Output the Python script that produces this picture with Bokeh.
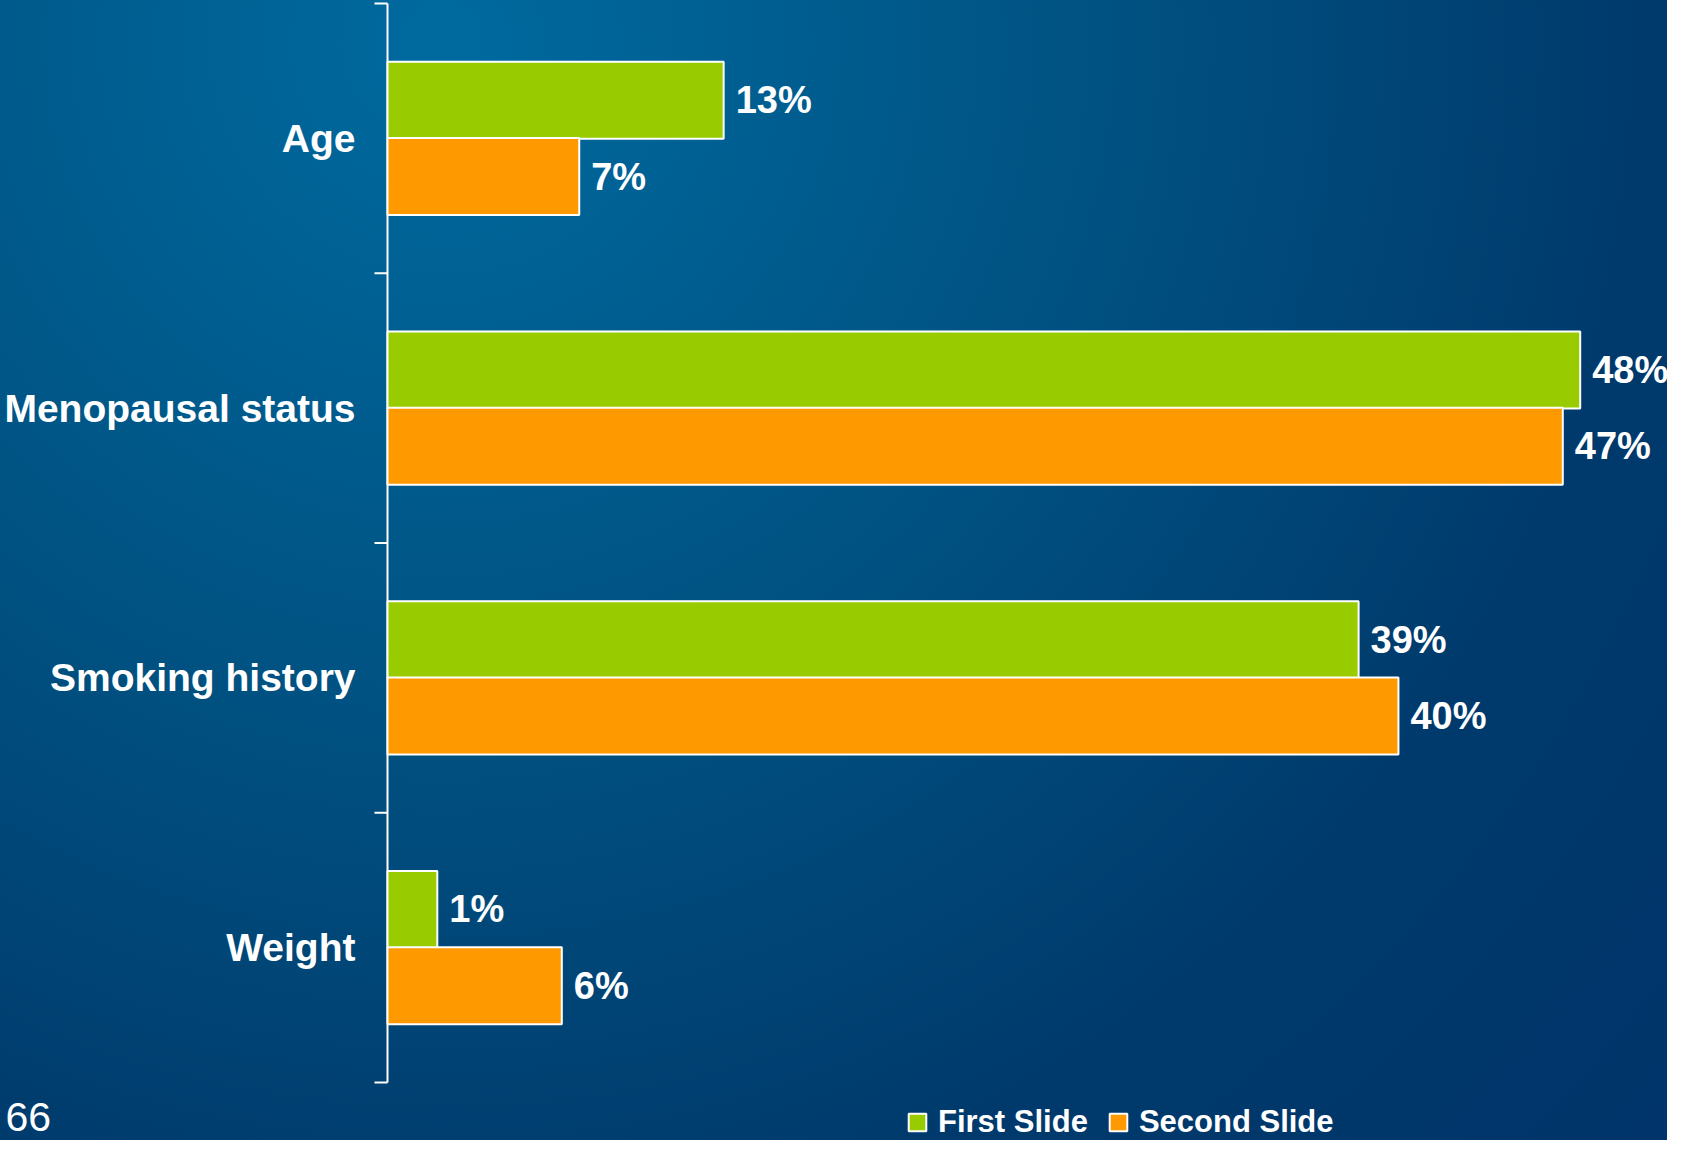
import numpy as np
from bokeh.plotting import figure
from bokeh.models import Range1d, Legend, LegendItem, Label, ColumnDataSource
from bokeh.embed import file_html
from bokeh.resources import INLINE
from bokeh.core.properties import value

# ---- data -------------------------------------------------------------
categories = ["Age", "Menopausal status", "Smoking history", "Weight"]
series_names = ["First Slide", "Second Slide"]
first_vals = [13.5, 47.9, 39.0, 2.0]
second_vals = [7.7, 47.2, 40.6, 7.0]
first_labels = ["13%", "48%", "39%", "1%"]
second_labels = ["7%", "47%", "40%", "6%"]
colors = ["#99CC00", "#FF9900"]
page_number = "66"

# ---- layout constants (pixels) -----------------------------------------
FONT = "Liberation Sans"
W, H = 1667, 1140
AXIS_X = 387          # pixel position of the value axis origin
TOP_Y = 3             # pixel position of the first category boundary
BAND = 269.75         # pixel height of one category band
PX_PER_UNIT = 24.9    # pixels per percentage point

n = len(categories)
idx = list(range(n))
bar_h = 0.285
off = 0.1415

x_start = -AXIS_X / PX_PER_UNIT
x_end = (W - AXIS_X) / PX_PER_UNIT
y_top = -0.5 - TOP_Y / BAND
y_bottom = -0.5 + (H - TOP_Y) / BAND

src1 = ColumnDataSource(dict(y=[i - off for i in idx], v=first_vals, lab=first_labels))
src2 = ColumnDataSource(dict(y=[i + off for i in idx], v=second_vals, lab=second_labels))
cat_src = ColumnDataSource(dict(y=idx, name=categories))
bounds = [i - 0.5 for i in idx] + [n - 0.5]

p = figure(width=W, height=H, output_backend="svg", toolbar_location=None,
           x_range=Range1d(x_start, x_end), y_range=Range1d(y_bottom, y_top),
           x_axis_location=None, y_axis_location=None,
           min_border=0, min_border_left=0, min_border_right=0,
           min_border_top=0, min_border_bottom=0,
           background_fill_alpha=0, border_fill_alpha=0,
           outline_line_color=None)
p.styles = {"background": "radial-gradient(circle at 442px 42px, #006a9f 0px, #005282 660px, #003a6c 1200px, #00346a 1650px)"}
p.xgrid.grid_line_color = None
p.ygrid.grid_line_color = None

# category axis (line, boundary ticks, labels)
p.segment(x0=0, x1=0, y0=bounds[0], y1=bounds[-1], line_color="white", line_width=2)
p.ray(x=0, y=bounds, length=13, length_units="screen", angle=np.pi,
      line_color="white", line_width=2)
p.text(x=0, y="y", text="name", source=cat_src, x_offset=-32,
       text_align="right", text_baseline="middle", text_color="white",
       text_font=value(FONT), text_font_style="bold", text_font_size="39px")

# bars
r1 = p.hbar(y="y", right="v", left=0, height=bar_h, source=src1,
            fill_color=colors[0], line_color="white", line_width=2)
r2 = p.hbar(y="y", right="v", left=0, height=bar_h, source=src2,
            fill_color=colors[1], line_color="white", line_width=2)

for s in (src1, src2):
    p.text(x="v", y="y", text="lab", source=s, x_offset=12,
           text_baseline="middle", text_align="left",
           text_color="white", text_font=value(FONT),
           text_font_style="bold", text_font_size="38px")

legend = Legend(items=[LegendItem(label=series_names[0], renderers=[r1]),
                       LegendItem(label=series_names[1], renderers=[r2])],
                orientation="horizontal", location=(906, 0),
                background_fill_alpha=0, border_line_alpha=0,
                label_text_color="white", label_text_font=FONT,
                label_text_font_style="bold", label_text_font_size="31px",
                glyph_width=22, glyph_height=22, label_standoff=10,
                spacing=19, padding=0, margin=0)
p.add_layout(legend)

p.add_layout(Label(x=5, y=24, x_units="screen", y_units="screen",
                   text=page_number, text_color="white", text_font=FONT,
                   text_font_size="41px", text_baseline="alphabetic"))

open("out.html", "w").write(file_html(p, INLINE))
